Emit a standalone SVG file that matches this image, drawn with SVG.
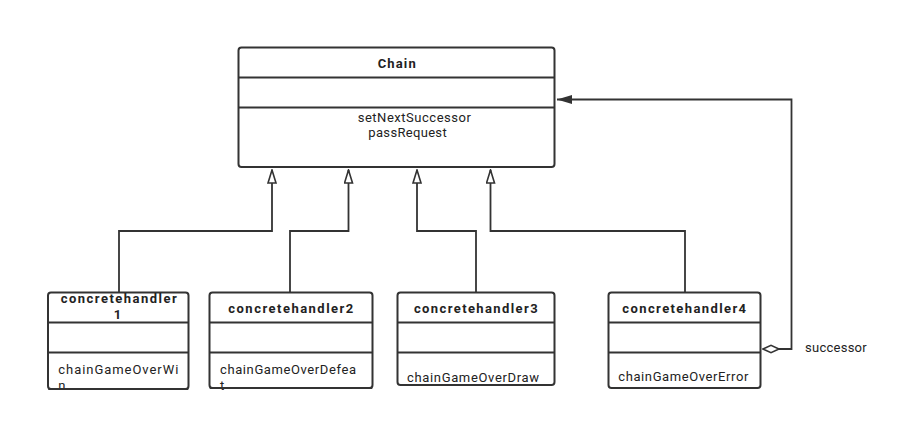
<svg xmlns="http://www.w3.org/2000/svg" width="915" height="421" viewBox="0 0 915 421">
<style>
.box{fill:#fff;stroke:#333;stroke-width:2}
.sep{stroke:#333;stroke-width:2}
.conn{fill:none;stroke:#333;stroke-width:1.8}
.t{font-family:Roboto,"Noto Sans","DejaVu Sans",sans-serif;font-size:13px;fill:#222}
.b{font-weight:bold;text-anchor:middle}
.m{text-anchor:middle}
</style>
<defs>
<marker id="inh" markerUnits="userSpaceOnUse" viewBox="0 0 15 10" refX="14" refY="5" markerWidth="15" markerHeight="10" orient="auto">
<path d="M1,1 L14,5 L1,9 Z" fill="#fff" stroke="#333" stroke-width="1.6"/>
</marker>
<marker id="arr" markerUnits="userSpaceOnUse" viewBox="0 0 16 10" refX="15" refY="5" markerWidth="16" markerHeight="10" orient="auto">
<path d="M0,0.5 L15,5 L0,9.5 Z" fill="#333"/>
</marker>
<marker id="dia" markerUnits="userSpaceOnUse" viewBox="0 0 19 10" refX="1" refY="5" markerWidth="19" markerHeight="10" orient="auto">
<path d="M1,5 L9,1.3 L17,5 L9,8.7 Z" fill="#fff" stroke="#333" stroke-width="1.6"/>
</marker>
</defs>
<rect width="915" height="421" fill="#fff"/>
<g id="connectors">
<path class="conn" d="M119,292 V231 H272 V170" marker-end="url(#inh)"/>
<path class="conn" d="M290,292 V231 H348.5 V170" marker-end="url(#inh)"/>
<path class="conn" d="M476,292 V231 H417 V170" marker-end="url(#inh)"/>
<path class="conn" d="M685,292 V231 H490.5 V170" marker-end="url(#inh)"/>
<path class="conn" d="M763,349 H791.5 V99.5 H557" marker-start="url(#dia)" marker-end="url(#arr)"/>
<text class="t" x="805" y="351.5" textLength="61.7" lengthAdjust="spacing">successor</text>
</g>
<g id="chain">
<rect class="box" x="238.5" y="47.5" width="316" height="119.5" rx="3"/>
<line class="sep" x1="238.5" y1="77.5" x2="554.5" y2="77.5"/>
<line class="sep" x1="238.5" y1="107.5" x2="554.5" y2="107.5"/>
<text class="t b" x="396.7" y="68" textLength="38" lengthAdjust="spacing">Chain</text>
<text class="t m" x="414.3" y="121.5" textLength="113.3" lengthAdjust="spacing">setNextSuccessor</text>
<text class="t m" x="407.5" y="137" textLength="78.3" lengthAdjust="spacing">passRequest</text>
</g>
<g id="h1">
<rect class="box" x="48" y="292.5" width="140.5" height="96.5" rx="3"/>
<line class="sep" x1="48" y1="322.5" x2="188.5" y2="322.5"/>
<line class="sep" x1="48" y1="352.5" x2="188.5" y2="352.5"/>
<text class="t b" x="118.7" y="303.3" textLength="116" lengthAdjust="spacing">concretehandler</text>
<text class="t b" x="117.5" y="319.3">1</text>
<text class="t" x="58.3" y="374.3" textLength="120" lengthAdjust="spacing">chainGameOverWi</text>
<text class="t" x="58.3" y="390">n</text>
<rect x="48" y="388" width="140.5" height="2" fill="#333" rx="1"/>
</g>
<g id="h2">
<rect class="box" x="209.5" y="292.5" width="163" height="95.5" rx="3"/>
<line class="sep" x1="209.5" y1="322.5" x2="372.5" y2="322.5"/>
<line class="sep" x1="209.5" y1="352.5" x2="372.5" y2="352.5"/>
<text class="t b" x="290.8" y="312.7" textLength="125" lengthAdjust="spacing">concretehandler2</text>
<text class="t" x="220" y="374.3" textLength="136" lengthAdjust="spacing">chainGameOverDefea</text>
<text class="t" x="220" y="390">t</text>
<rect x="209.5" y="387" width="163" height="2" fill="#333" rx="1"/>
</g>
<g id="h3">
<rect class="box" x="397.5" y="292.5" width="157" height="92.5" rx="3"/>
<line class="sep" x1="397.5" y1="322.5" x2="554.5" y2="322.5"/>
<line class="sep" x1="397.5" y1="352.5" x2="554.5" y2="352.5"/>
<text class="t b" x="475.8" y="312.7" textLength="123.7" lengthAdjust="spacing">concretehandler3</text>
<text class="t" x="407" y="381.7" textLength="132" lengthAdjust="spacing">chainGameOverDraw</text>
</g>
<g id="h4">
<rect class="box" x="608.5" y="292.5" width="152" height="95.5" rx="3"/>
<line class="sep" x1="608.5" y1="322.5" x2="760.5" y2="322.5"/>
<line class="sep" x1="608.5" y1="352.5" x2="760.5" y2="352.5"/>
<text class="t b" x="684.2" y="312.5" textLength="123.7" lengthAdjust="spacing">concretehandler4</text>
<text class="t" x="618.3" y="381" textLength="130" lengthAdjust="spacing">chainGameOverError</text>
</g>
</svg>
